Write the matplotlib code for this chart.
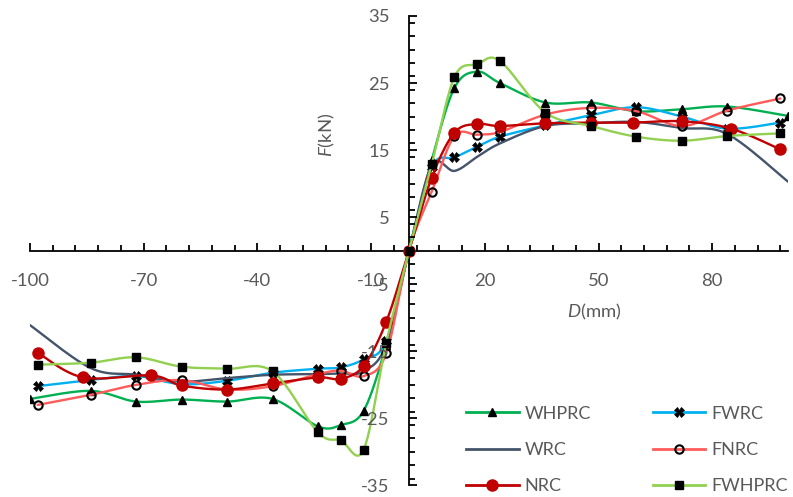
import numpy as np
import matplotlib
matplotlib.use("Agg")
import matplotlib.pyplot as plt
from matplotlib.lines import Line2D
from matplotlib.ticker import MultipleLocator, FixedLocator

plt.rcParams['font.family'] = ['Lato', 'DejaVu Sans']
plt.rcParams['mathtext.fontset'] = 'custom'
plt.rcParams['mathtext.rm'] = 'Lato'
plt.rcParams['mathtext.it'] = 'Lato:italic'
plt.rcParams['axes.unicode_minus'] = False

# data (D in mm, F in kN)
d_whprc = [-100, -84, -72, -60, -48, -36, -24, -18, -12, -6, 0, 6, 12, 18, 24, 36, 48, 60, 72, 84, 100]
f_whprc = [-22.1, -20.9, -22.5, -22.2, -22.5, -22.1, -26.2, -26.0, -23.9, -14.0, 0,
           13.5, 24.3, 26.7, 25.0, 22.1, 22.1, 20.8, 21.1, 21.5, 20.1]

d_fwrc = [-98, -84, -72, -60, -48, -36, -24, -18, -12, -6, 0, 6, 12, 18, 24, 36, 48, 60, 72, 84, 98]
f_fwrc = [-20.2, -19.3, -18.7, -19.9, -19.4, -18.2, -17.6, -17.4, -16.2, -13.5, 0,
          12.5, 13.9, 15.5, 17.0, 18.7, 20.2, 21.4, 20.0, 18.2, 19.1]

d_wrc = [-100, -84, -72, -60, -48, -36, -24, -18, -12, -6, 0, 6, 12, 18, 24, 36, 48, 60, 72, 84, 100]
f_wrc = [-11.1, -17.5, -18.5, -19.5, -19.0, -18.5, -18.4, -18.3, -18.0, -14.0, 0,
         12.7, 11.9, 14.0, 16.0, 18.6, 19.0, 19.2, 18.3, 17.4, 10.3]

d_fnrc = [-98, -84, -72, -60, -48, -36, -24, -18, -12, -6, 0, 6, 12, 18, 24, 36, 48, 60, 72, 84, 98]
f_fnrc = [-23.0, -21.5, -20.0, -19.3, -20.7, -20.2, -18.4, -17.9, -18.7, -15.3, 0,
          8.8, 17.1, 17.3, 17.7, 20.3, 21.3, 20.8, 18.6, 20.9, 22.7]

d_nrc = [-98, -86, -68, -60, -48, -36, -24, -18, -12, -6, 0, 6, 12, 18, 24, 36, 48, 59, 72, 85, 98]
f_nrc = [-15.2, -18.9, -18.6, -20.1, -20.7, -19.8, -18.9, -19.1, -17.2, -10.6, 0,
         10.9, 17.6, 18.9, 18.6, 19.0, 19.1, 19.1, 19.3, 18.2, 15.1]

d_fwhprc = [-98, -84, -72, -60, -48, -36, -24, -18, -12, -6, 0, 6, 12, 18, 24, 36, 48, 60, 72, 84, 98]
f_fwhprc = [-17.0, -16.7, -15.9, -17.3, -17.6, -18.0, -27.1, -28.3, -29.7, -13.7, 0,
            12.9, 25.9, 27.8, 28.3, 20.6, 18.6, 17.0, 16.4, 17.1, 17.5]


def smooth(x, y, n=24):
    # excel-like smoothed line (bezier through the points)
    pts = np.column_stack([x, y]).astype(float)
    P = np.vstack([pts[0], pts, pts[-1]])
    t = np.linspace(0, 1, n)[:, None]
    out = []
    for i in range(1, len(P) - 2):
        p0, p1, p2, p3 = P[i - 1], P[i], P[i + 1], P[i + 2]
        c1 = p1 + (p2 - p0) / 6
        c2 = p2 - (p3 - p1) / 6
        seg = (1 - t) ** 3 * p1 + 3 * (1 - t) ** 2 * t * c1 + 3 * (1 - t) * t ** 2 * c2 + t ** 3 * p2
        out.append(seg if i == 1 else seg[1:])
    s = np.vstack(out)
    return s[:, 0], s[:, 1]


series = [
    ('WHPRC', d_whprc, f_whprc, '#00B050', dict(marker='^', ms=6, mfc='black', mec='black')),
    ('FWRC', d_fwrc, f_fwrc, '#00B0F0', dict(marker='X', ms=6.5, mfc='black', mec='black', mew=0.5)),
    ('WRC', d_wrc, f_wrc, '#44546A', None),
    ('FNRC', d_fnrc, f_fnrc, '#FF5B5B', dict(marker='o', ms=6, mfc='none', mec='black', mew=1.5)),
    ('NRC', d_nrc, f_nrc, '#C00000', dict(marker='o', ms=8, mfc='#C00000', mec='#C00000')),
    ('FWHPRC', d_fwhprc, f_fwhprc, '#92D050', dict(marker='s', ms=5.5, mfc='black', mec='black')),
]

fig = plt.figure(figsize=(7.93, 4.97), dpi=100)
ax = fig.add_axes([30 / 793, 1 - 485.4 / 497, 758 / 793, 469.4 / 497])

handles = {}
for k, (name, d, f, col, mk) in enumerate(series):
    sx, sy = smooth(d, f)
    ax.plot(sx, sy, color=col, lw=1.7, zorder=3 + k, solid_capstyle='round')
    if mk:
        ax.plot(d, f, ls='none', zorder=3 + k, **mk)
        handles[name] = Line2D([], [], color=col, lw=2, **mk)
    else:
        handles[name] = Line2D([], [], color=col, lw=2)

ax.set_xlim(-100, 100)
ax.set_ylim(-35, 35)

for s in ['top', 'right']:
    ax.spines[s].set_visible(False)
ax.spines['left'].set_position(('data', 0))
ax.spines['bottom'].set_position(('data', 0))
for s in ['left', 'bottom']:
    ax.spines[s].set_linewidth(1.3)
    ax.spines[s].set_zorder(2)

ax.xaxis.set_major_locator(FixedLocator(np.arange(-100, 101, 30)))
ax.xaxis.set_minor_locator(FixedLocator(np.arange(-100, 101, 6)))
ax.yaxis.set_major_locator(FixedLocator(np.arange(-35, 36, 10)))
ax.yaxis.set_minor_locator(MultipleLocator(2))
# labels sit on top of the curves like in the original
ax.xaxis.set_zorder(20)
ax.yaxis.set_zorder(20)

ax.tick_params(axis='both', which='both', direction='in', colors='black', width=1.3,
               labelcolor='#595959', labelsize=13.3)
ax.tick_params(axis='both', which='major', length=6)
ax.tick_params(axis='both', which='minor', length=4.5)
ax.tick_params(axis='x', which='major', pad=16)
ax.tick_params(axis='y', which='major', pad=14)

fig.text(327 / 793, 1 - 135 / 497, r'$\mathit{F}$(kN)', rotation=90, ha='center', va='center',
         fontsize=13.3, color='#595959')
fig.text(594 / 793, 1 - 312 / 497, r'$\mathit{D}$(mm)', ha='center', va='center',
         fontsize=13.3, color='#595959')

order = ['WHPRC', 'WRC', 'NRC', 'FWRC', 'FNRC', 'FWHPRC']
leg = fig.legend([handles[n] for n in order], order, ncol=2, loc='center',
                 bbox_to_anchor=(627 / 793, 1 - 450 / 497), frameon=False,
                 fontsize=13, handlelength=2.9, handletextpad=0.35,
                 columnspacing=3.4, labelspacing=1.12, labelcolor='#595959')

fig.savefig('out.png', dpi=100)
